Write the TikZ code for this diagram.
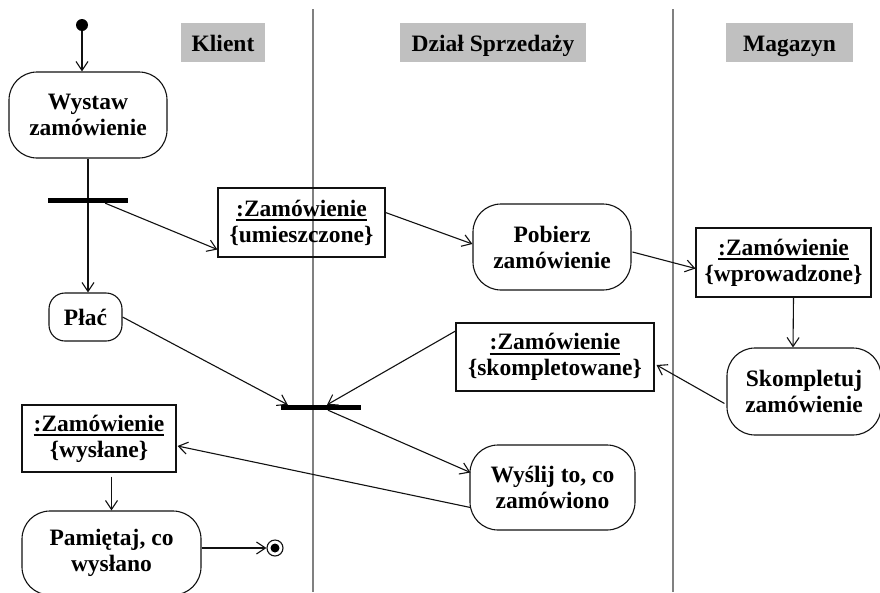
\documentclass[tikz,border=0pt]{standalone}
\usepackage{fontspec}
\setmainfont{Liberation Serif}
\usetikzlibrary{arrows.meta,calc}
\definecolor{hdr}{HTML}{C0C0C0}
\definecolor{lanec}{HTML}{808080}
\definecolor{ink}{HTML}{111111}
\newcommand{\zamul}{\vtop{\hbox{:Zamówienie}\kern2.5pt\hrule height 2pt}}
\begin{document}
\begin{tikzpicture}[x=1pt,y=-1pt,
 every node/.style={font=\fontsize{23.5}{26}\selectfont\bfseries, align=center, inner sep=0pt, text=black},
 act/.style={draw=ink, rounded corners=28pt, line width=1.1pt},
 obj/.style={draw=ink, line width=1.1pt},
 bar/.style={fill=black, draw=none},
 hdrbox/.style={fill=hdr, text height=22pt, text depth=5pt},
 arr/.style={draw=ink, -{Straight Barb[length=9pt,width=12pt]}, line width=1.1pt},
 ln/.style={draw=ink, line width=1.1pt},
 lane/.style={draw=lanec, line width=2pt}]
\useasboundingbox (0,0) rectangle (880,592);
\fill[white] (0,0) rectangle (880,592);

% swimlane separators
\draw[lane] (313,9) -- (313,592);
\draw[lane] (673,9) -- (673,592);

% headers
\node[hdrbox, minimum width=84, minimum height=39] (hk) at (223,42.5) {Klient};
\node[hdrbox, minimum width=186, minimum height=39] (hd) at (493,42.5) {Dział Sprzedaży};
\node[hdrbox, minimum width=127, minimum height=39] (hm) at (789.5,42.5) {Magazyn};

% nodes
\node[circle, fill=black, minimum size=12] (init) at (82,25) {};
\node[act, minimum width=158, minimum height=86] (wystaw) at (88,115) {Wystaw\\zamówienie};
\node[bar, minimum width=80, minimum height=5] (fork) at (88,200.5) {};
\node[obj, minimum width=167, minimum height=69] (umiesz) at (301.5,222.5) {\zamul\\\{umieszczone\}};
\node[act, minimum width=158, minimum height=86] (pobierz) at (552,247) {Pobierz\\zamówienie};
\node[obj, minimum width=175, minimum height=69] (wprow) at (783.5,262.5) {\zamul\\\{wprowadzone\}};
\node[act, minimum width=154, minimum height=87] (skompl) at (804,391.5) {Skompletuj\\zamówienie};
\node[obj, minimum width=198, minimum height=68] (skobj) at (555,357) {\zamul\\\{skompletowane\}};
\node[act, rounded corners=16pt, minimum width=73, minimum height=48] (plac) at (85.5,317) {Płać};
\node[bar, minimum width=80, minimum height=5] (join) at (321,407.5) {};
\node[act, minimum width=165, minimum height=85] (wyslij) at (552.5,487.5) {Wyślij to, co\\zamówiono};
\node[obj, minimum width=154, minimum height=67] (wyslane) at (99,438.5) {\zamul\\\{wysłane\}};
\node[act, minimum width=179, minimum height=84] (pamietaj) at (111.5,553) {Pamiętaj, co\\wysłano};
\node[circle, draw=ink, line width=1.1pt, minimum size=16] (final) at (275,548) {};
\fill[black] (final.center) circle (4.5);

% connectors
\draw[arr] (init) -- (init |- wystaw.north);
\draw[ln] (wystaw.south) -- (fork.north);
\draw[arr] (fork.south) -- (fork.south |- plac.north);
\draw[arr] ($(fork.south east)+(-23,0)$) -- ($(umiesz.south west)+(0,-8)$);
\draw[arr] ($(umiesz.east)+(0,-10)$) -- ($(pobierz.west)+(0,-3)$);
\draw[arr] ($(pobierz.east)+(1,5)$) -- ($(wprow.west)+(0,6)$);
\draw[arr] ($(wprow.south)+(10,0)$) -- ($(skompl.north)+(-11,0)$);
\draw[arr] ($(skompl.west)+(-2,12)$) -- ($(skobj.east)+(2,8)$);
\draw[arr] ($(skobj.north west)+(1,8)$) -- ($(join.north)+(6,0)$);
\draw[arr] (plac.east) -- ($(join.north west)+(7,0)$);
\draw[arr] ($(join.south)+(7,0)$) -- ($(wyslij.west)+(1,-15)$);
\draw[arr] ($(wyslij.west)+(1,20)$) -- ($(wyslane.east)+(1,7.5)$);
\draw[arr] ($(pamietaj.north |- wyslane.south)+(0,4)$) -- (pamietaj.north);
\draw[arr] (pamietaj.east |- final) -- (final.west);
\end{tikzpicture}
\end{document}
